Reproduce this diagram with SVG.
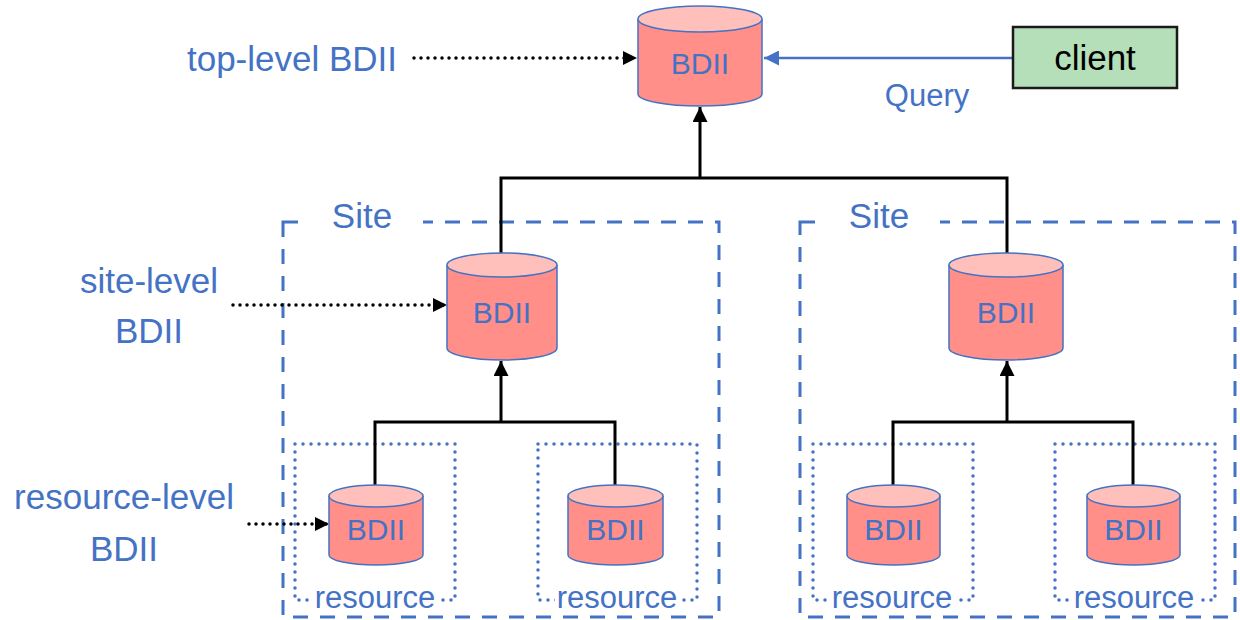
<svg xmlns="http://www.w3.org/2000/svg" width="1240" height="620" viewBox="0 0 1240 620">
<style>
.lbl{font-family:"Liberation Sans",Arial,sans-serif;fill:#4472c4;}
.cyl-body{fill:#ff8f88;stroke:#4472c4;stroke-width:1.5;}
.cyl-top{fill:#ffc0bc;stroke:#4472c4;stroke-width:1.5;}
.site{fill:none;stroke:#4472c4;stroke-width:3;stroke-dasharray:15 12;}
.res{fill:none;stroke:#4472c4;stroke-width:3.5;stroke-dasharray:0 8;stroke-linecap:round;}
.tree{fill:none;stroke:#000;stroke-width:3;}
.dot{fill:none;stroke:#000;stroke-width:3.5;stroke-dasharray:0 7;stroke-linecap:round;}
</style>
<defs>
<marker id="ah" viewBox="0 0 10 10" refX="10" refY="5" markerWidth="5" markerHeight="5" orient="auto" markerUnits="strokeWidth"><path d="M0,0 L10,5 L0,10 z" fill="#000"/></marker>
<marker id="ahd" viewBox="0 0 10 10" refX="10" refY="5" markerWidth="4" markerHeight="4" orient="auto" markerUnits="strokeWidth"><path d="M0,0 L10,5 L0,10 z" fill="#000"/></marker>
<marker id="ahb" viewBox="0 0 10 10" refX="10" refY="5" markerWidth="6" markerHeight="6" orient="auto" markerUnits="strokeWidth"><path d="M0,0 L10,5 L0,10 z" fill="#4472c4"/></marker>
</defs>
<rect width="1240" height="620" fill="#fff"/>

<g id="site-left">
<rect x="283" y="222" width="436" height="395" class="site"/>
<rect x="300" y="205" width="123" height="30" fill="#fff"/>
<text x="362" y="228" class="lbl" font-size="35" text-anchor="middle">Site</text>
</g>
<g id="site-right">
<rect x="800" y="222" width="435" height="395" class="site"/>
<rect x="817" y="205" width="123" height="30" fill="#fff"/>
<text x="879" y="228" class="lbl" font-size="35" text-anchor="middle">Site</text>
</g>

<g id="res-box-1"><rect x="295" y="444" width="160" height="156" class="res"/><rect x="312" y="590" width="126" height="22" fill="#fff"/><text x="375" y="608" class="lbl" font-size="31" text-anchor="middle">resource</text></g>
<g id="res-box-2"><rect x="538" y="444" width="159" height="156" class="res"/><rect x="555" y="590" width="126" height="22" fill="#fff"/><text x="617" y="608" class="lbl" font-size="31" text-anchor="middle">resource</text></g>
<g id="res-box-3"><rect x="813" y="444" width="160" height="156" class="res"/><rect x="830" y="590" width="126" height="22" fill="#fff"/><text x="892" y="608" class="lbl" font-size="31" text-anchor="middle">resource</text></g>
<g id="res-box-4"><rect x="1055" y="444" width="160" height="156" class="res"/><rect x="1072" y="590" width="126" height="22" fill="#fff"/><text x="1134" y="608" class="lbl" font-size="31" text-anchor="middle">resource</text></g>

<g id="connectors">
<polyline points="501,253 501,178 1007,178 1007,253" class="tree"/>
<line x1="700" y1="178" x2="700" y2="107" class="tree" marker-end="url(#ah)"/>
<polyline points="375,485 375,422 615,422 615,485" class="tree"/>
<line x1="501" y1="422" x2="501" y2="361" class="tree" marker-end="url(#ah)"/>
<polyline points="893,485 893,422 1133,422 1133,485" class="tree"/>
<line x1="1007" y1="422" x2="1007" y2="361" class="tree" marker-end="url(#ah)"/>
<line x1="1013" y1="58" x2="764" y2="58" stroke="#4472c4" stroke-width="2.5" marker-end="url(#ahb)"/>
<line x1="414" y1="58" x2="637" y2="58" class="dot" marker-end="url(#ahd)"/>
<line x1="233" y1="305" x2="447" y2="305" class="dot" marker-end="url(#ahd)"/>
<line x1="249" y1="524" x2="329" y2="524" class="dot" marker-end="url(#ahd)"/>
</g>

<g id="bdii-top">
<path d="M638,19 L638,94 A62,12 0 0 0 762,94 L762,19" class="cyl-body"/>
<ellipse cx="700" cy="19" rx="62" ry="13" class="cyl-top"/>
<text x="700" y="74" class="lbl" font-size="30" text-anchor="middle">BDII</text>
</g>
<g id="bdii-site-left">
<path d="M447,265 L447,348 A55,12 0 0 0 557,348 L557,265" class="cyl-body"/>
<ellipse cx="502" cy="265" rx="55" ry="12" class="cyl-top"/>
<text x="502" y="323" class="lbl" font-size="30" text-anchor="middle">BDII</text>
</g>
<g id="bdii-site-right">
<path d="M949,265 L949,348 A57,12 0 0 0 1063,348 L1063,265" class="cyl-body"/>
<ellipse cx="1006" cy="265" rx="57" ry="12" class="cyl-top"/>
<text x="1006" y="323" class="lbl" font-size="30" text-anchor="middle">BDII</text>
</g>
<g id="bdii-res-1">
<path d="M329,496 L329,555 A47,10 0 0 0 423,555 L423,496" class="cyl-body"/>
<ellipse cx="376" cy="496" rx="47" ry="11" class="cyl-top"/>
<text x="376" y="540" class="lbl" font-size="30" text-anchor="middle">BDII</text>
</g>
<g id="bdii-res-2">
<path d="M568,496 L568,555 A47.5,10 0 0 0 663,555 L663,496" class="cyl-body"/>
<ellipse cx="615.5" cy="496" rx="47.5" ry="11" class="cyl-top"/>
<text x="615.5" y="540" class="lbl" font-size="30" text-anchor="middle">BDII</text>
</g>
<g id="bdii-res-3">
<path d="M847,496 L847,555 A46.5,10 0 0 0 940,555 L940,496" class="cyl-body"/>
<ellipse cx="893.5" cy="496" rx="46.5" ry="11" class="cyl-top"/>
<text x="893.5" y="540" class="lbl" font-size="30" text-anchor="middle">BDII</text>
</g>
<g id="bdii-res-4">
<path d="M1087,496 L1087,555 A46.5,10 0 0 0 1180,555 L1180,496" class="cyl-body"/>
<ellipse cx="1133.5" cy="496" rx="46.5" ry="11" class="cyl-top"/>
<text x="1133.5" y="540" class="lbl" font-size="30" text-anchor="middle">BDII</text>
</g>

<g id="client">
<rect x="1013" y="27" width="164" height="61" fill="#b4dfb9" stroke="#1a1a1a" stroke-width="2.5"/>
<text x="1095" y="70" font-family="Liberation Sans,Arial,sans-serif" font-size="35" fill="#000" text-anchor="middle">client</text>
</g>
<g id="labels">
<text x="927" y="106" class="lbl" font-size="31" text-anchor="middle">Query</text>
<text x="292" y="71" class="lbl" font-size="35" text-anchor="middle">top-level BDII</text>
<text x="149" y="293" class="lbl" font-size="35" text-anchor="middle">site-level</text>
<text x="149" y="343" class="lbl" font-size="35" text-anchor="middle">BDII</text>
<text x="124" y="509" class="lbl" font-size="35" text-anchor="middle">resource-level</text>
<text x="124" y="561" class="lbl" font-size="35" text-anchor="middle">BDII</text>
</g>
</svg>
